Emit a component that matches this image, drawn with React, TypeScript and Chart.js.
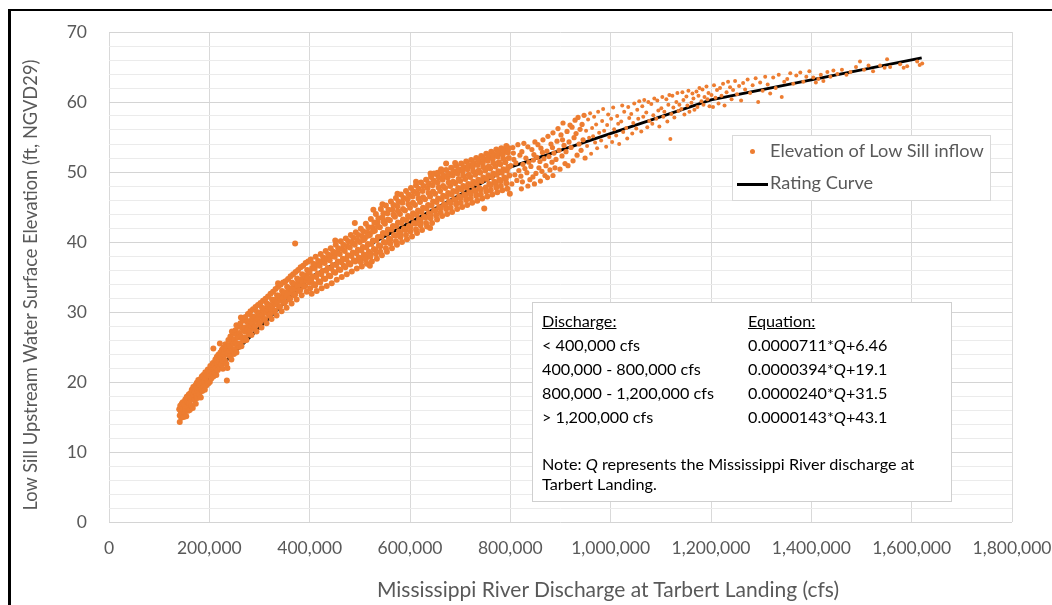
import { useEffect, useRef } from "react";
import { Chart, registerables } from "chart.js";

Chart.register(...registerables);

// ---------- DATA ----------
// Observed Low Sill inflow: [Mississippi discharge (thousand cfs), elevation (ft, NGVD29)]
const obsBelow400k: [number, number][] = [
  [140,16.1],[141,14.3],[141,15.2],[142,16.6],[143,15.8],[144,14.9],[145,16.9],[146,15.5],[147,17.1],[148,16.2],[149,15.0],
  [150,16.8],[151,15.6],[152,17.5],[153,16.2],[154,15.1],[155,17.9],[156,16.5],[157,17.1],[158,15.9],[159,18.2],
  [160,17.0],[161,16.0],[162,18.4],[163,17.5],[164,16.6],[165,18.9],[166,17.8],[167,16.3],[168,19.3],[169,18.1],
  [170,17.4],[171,18.6],[172,19.5],[173,16.9],[174,18.0],[175,19.9],[176,17.7],[177,18.8],[178,20.3],[179,19.1],
  [180,18.2],[181,19.6],[182,20.4],[183,17.8],[184,19.0],[185,20.8],[186,18.7],[187,19.9],[188,21.0],[189,19.3],
  [190,20.1],[191,18.9],[192,21.4],[193,20.6],[194,19.5],[195,21.0],[196,20.0],[197,21.8],[198,19.8],[199,20.9],
  [200,21.2],[201,20.0],[202,22.3],[203,21.6],[204,20.5],[205,22.0],[206,21.1],[207,22.7],[208,20.8],[209,21.9],[208,24.8],
  [210,22.4],[211,21.3],[212,23.2],[213,22.0],[214,21.0],[215,23.6],[216,22.6],[217,21.7],[218,23.9],[219,22.9],
  [220,23.3],[221,22.1],[222,24.2],[223,23.6],[224,22.5],[225,24.6],[226,23.0],[227,21.9],[228,24.9],[229,23.8],[221,25.5],
  [230,24.3],[231,23.1],[232,25.4],[233,24.7],[234,22.6],[235,20.2],[236,25.1],[237,23.9],[238,26.0],[239,24.4],[236,22.0],
  [240,25.2],[241,23.7],[242,26.5],[243,24.9],[244,23.2],[245,25.8],[246,24.5],[247,26.9],[248,25.5],[249,24.0],[245,27.2],
  [250,26.1],[251,24.7],[252,27.4],[253,25.6],[254,24.2],[255,26.8],[256,25.3],[257,27.9],[258,26.4],[259,25.0],[254,28.1],
  [260,27.0],[261,25.5],[262,28.4],[263,26.5],[264,25.1],[265,27.7],[266,26.2],[267,28.8],[268,27.3],[269,25.9],[263,29.2],
  [270,27.8],[271,26.4],[272,29.3],[273,27.2],[274,26.0],[275,28.6],[276,27.5],[277,29.7],[278,28.2],[279,26.8],
  [280,28.7],[281,27.3],[282,30.1],[283,28.0],[284,26.7],[285,29.4],[286,28.4],[287,30.4],[288,29.0],[289,27.6],
  [290,29.3],[291,27.9],[292,30.7],[293,28.7],[294,27.2],[295,30.0],[296,29.0],[297,31.0],[298,29.6],[299,28.3],
  [300,29.9],[301,28.5],[302,31.3],[303,29.3],[304,27.8],[305,30.6],[306,29.6],[307,31.6],[308,30.2],[309,28.9],
  [310,30.5],[311,29.0],[312,31.9],[313,29.9],[314,28.4],[315,31.2],[316,30.3],[317,32.2],[318,30.8],[319,29.5],
  [320,31.0],[321,29.6],[322,32.6],[323,30.4],[324,29.0],[325,31.8],[326,30.9],[327,32.9],[328,31.4],[329,30.0],
  [330,31.7],[331,30.2],[332,33.3],[333,31.1],[334,29.5],[335,32.4],[336,31.5],[337,33.6],[338,32.1],[339,30.7],[337,34.1],
  [340,32.3],[341,30.8],[342,33.9],[343,31.6],[344,30.1],[345,33.0],[346,32.0],[347,34.2],[348,32.7],[349,31.3],
  [350,32.8],[351,31.4],[352,34.4],[353,32.2],[354,30.6],[355,33.6],[356,32.5],[357,34.7],[358,33.2],[359,31.8],
  [360,33.4],[361,31.9],[362,35.1],[363,32.7],[364,31.2],[365,34.2],[366,33.1],[367,35.4],[368,33.8],[369,32.4],
  [370,34.0],[371,32.5],[372,35.7],[371,39.8],[373,33.3],[374,31.8],[375,34.8],[376,33.7],[377,36.0],[378,34.4],[379,33.0],
  [380,34.6],[381,33.1],[382,36.4],[383,33.9],[384,32.4],[385,35.4],[386,34.3],[387,36.6],[388,35.0],[389,33.6],
  [390,35.2],[391,33.7],[392,37.0],[393,34.5],[394,32.9],[395,36.0],[396,34.9],[397,37.2],[398,35.6],[399,34.2],
];

const obs400kTo800k: [number, number][] = [
  [400,35.8],[401,33.4],[402,37.5],[403,34.6],[404,32.6],[405,36.3],[406,35.1],[407,36.9],[408,34.0],
  [410,36.2],[411,33.8],[412,37.9],[413,35.0],[414,33.0],[415,36.8],[416,35.5],[417,37.3],[418,34.4],
  [420,36.6],[421,34.2],[422,38.3],[423,35.4],[424,33.4],[425,37.2],[426,35.9],[427,37.8],[428,34.8],
  [430,37.0],[431,34.7],[432,38.7],[433,35.9],[434,33.7],[435,37.6],[436,36.3],[437,38.2],[438,35.2],
  [440,37.4],[441,35.1],[442,39.1],[443,36.2],[444,34.1],[445,38.0],[446,36.7],[447,38.6],[448,35.7],
  [450,37.9],[451,35.6],[452,39.6],[453,36.7],[454,34.6],[455,38.5],[456,37.2],[457,39.1],[458,36.1],[451,40.2],
  [460,38.3],[461,36.0],[462,40.1],[463,37.1],[464,35.0],[465,39.0],[466,37.6],[467,39.6],[468,36.6],
  [470,38.7],[471,36.4],[472,40.5],[473,37.5],[474,35.4],[475,39.4],[476,38.1],[477,40.1],[478,37.0],
  [480,39.2],[481,36.8],[482,41.0],[483,38.0],[484,35.8],[485,39.9],[486,38.5],[487,40.6],[488,37.4],
  [490,39.6],[491,37.2],[492,41.4],[493,38.4],[494,36.2],[495,40.3],[496,38.9],[497,41.0],[498,37.8],[490,42.7],
  [500,40.0],[501,37.6],[502,41.9],[503,38.8],[504,36.5],[505,40.8],[506,39.3],[507,41.5],[508,38.2],
  [510,40.5],[511,38.0],[512,42.6],[513,39.2],[514,36.9],[515,41.4],[516,39.7],[517,42.1],[518,38.6],
  [520,41.0],[521,38.4],[522,43.3],[523,39.7],[524,37.2],[525,42.1],[526,40.2],[527,44.6],[528,39.0],[520,36.6],
  [530,41.6],[531,38.9],[532,44.0],[533,40.2],[534,37.6],[535,42.8],[536,40.7],[537,43.4],[538,39.5],
  [540,42.1],[541,39.4],[542,44.7],[543,40.8],[544,38.1],[545,43.5],[546,41.3],[547,44.1],[548,40.0],[545,45.4],
  [550,42.6],[551,39.9],[552,45.2],[553,41.3],[554,38.6],[555,44.1],[556,41.8],[557,44.6],[558,40.5],
  [560,43.1],[561,40.4],[562,45.8],[563,41.8],[564,39.1],[565,44.6],[566,42.3],[567,45.3],[568,41.0],
  [570,43.6],[571,40.9],[572,46.3],[573,42.3],[574,39.6],[575,45.1],[576,42.8],[577,45.8],[578,41.5],[575,46.9],
  [580,44.0],[581,41.3],[582,46.8],[583,42.7],[584,40.0],[585,45.6],[586,43.2],[587,46.3],[588,41.9],
  [590,44.5],[591,41.7],[592,47.3],[593,43.1],[594,40.4],[595,46.1],[596,43.7],[597,46.8],[598,42.3],
  [600,44.9],[601,42.1],[602,47.7],[603,43.5],[604,40.8],[605,46.5],[606,44.1],[607,47.2],[608,42.7],
  [610,45.3],[611,42.6],[612,48.1],[613,43.9],[614,41.3],[615,46.9],[616,44.5],[617,47.6],[618,43.2],[612,48.6],
  [620,45.7],[621,43.0],[622,48.5],[623,44.3],[624,41.7],[625,47.3],[626,44.9],[627,48.0],[628,43.6],
  [630,46.1],[631,43.5],[632,48.9],[633,44.8],[634,42.2],[635,47.7],[636,45.3],[637,48.4],[638,44.1],
  [640,46.5],[641,44.0],[642,49.3],[643,45.2],[644,42.7],[645,48.1],[646,45.8],[647,48.8],[648,44.5],[640,42.0],[641,49.8],
  [650,46.9],[651,44.5],[652,49.7],[653,45.7],[654,43.2],[655,48.5],[656,46.2],[657,49.2],[658,45.0],[648,49.8],[655,49.9],
  [660,47.3],[661,44.9],[662,50.0],[663,46.1],[664,43.7],[665,48.9],[666,46.6],[667,49.5],[668,45.4],[662,50.4],
  [670,47.7],[671,45.2],[672,50.3],[673,46.5],[674,44.0],[675,49.2],[676,47.0],[677,49.8],[678,45.8],[672,51.2],
  [680,48.0],[681,45.6],[682,50.6],[683,46.8],[684,44.3],[685,49.5],[686,47.3],[687,50.1],[688,46.1],
  [690,48.4],[691,46.0],[692,50.9],[693,47.2],[694,44.7],[695,49.8],[696,47.7],[697,50.4],[698,46.5],[690,51.3],
  [700,48.7],[701,46.3],[702,51.2],[703,47.5],[704,45.0],[705,50.1],[706,48.0],[707,50.7],[708,46.8],
  [710,49.0],[711,46.6],[712,51.5],[713,47.8],[714,45.3],[715,50.4],[716,48.3],[717,51.0],[718,47.1],
  [720,49.3],[721,46.9],[722,51.7],[723,48.1],[724,45.6],[725,50.7],[726,48.6],[727,51.3],[728,47.4],
  [730,49.6],[731,47.2],[732,52.0],[733,48.4],[734,45.9],[735,51.0],[736,48.9],[737,51.6],[738,47.7],
  [740,49.9],[741,47.5],[742,52.3],[743,48.7],[744,46.2],[745,51.3],[746,49.2],[747,51.9],[748,44.8],
  [750,50.2],[751,47.8],[752,52.6],[753,49.0],[754,46.5],[755,51.6],[756,49.5],[757,52.2],[758,48.3],
  [760,50.5],[761,48.1],[762,52.9],[763,49.3],[764,46.8],[765,51.9],[766,49.8],[767,52.5],[768,48.6],
  [770,50.8],[771,48.4],[772,53.2],[773,49.6],[774,47.1],[775,52.2],[776,50.1],[777,52.8],[778,48.9],
  [780,51.1],[781,48.7],[782,53.4],[783,49.9],[784,47.4],[785,52.5],[786,50.4],[787,53.1],[788,49.2],
  [790,51.4],[791,49.0],[792,53.7],[793,50.2],[794,47.6],[795,52.8],[796,50.7],[797,53.4],[798,49.5],[799,46.9],
  // densely packed readings inside the band
  [502,37.1],[507,40.3],[512,37.5],[516,40.9],[521,37.9],[526,41.5],[529,42.8],[532,38.3],[536,42.2],
  [541,38.6],[547,42.9],[552,39.1],[556,43.2],[561,39.8],[567,43.9],[572,40.1],[576,44.4],[581,40.7],[586,44.7],
  [592,41.0],[597,45.4],[601,41.5],[606,45.6],[612,41.8],[617,46.2],[621,42.4],[626,46.4],[632,42.7],[637,47.0],
  [641,43.4],[646,47.2],[652,43.8],[657,47.8],[661,44.2],[666,48.0],[672,44.7],[677,48.5],[681,44.9],[686,48.6],
  [692,45.4],[697,49.0],[701,45.6],[706,49.5],[712,46.0],[717,49.6],[721,46.2],[726,50.1],[732,46.6],[737,50.2],
  [741,46.8],[746,50.7],[752,47.2],[757,50.8],[761,47.4],[766,51.3],[772,47.8],[777,51.4],[781,48.0],[786,51.9],
  [792,48.4],[797,52.0],
];

const obs800kTo1200k: [number, number][] = [
  [801,50.9],[803,48.3],[805,53.5],[807,51.8],[809,49.6],[806,52.7],
  [811,51.3],[813,48.8],[815,53.9],[817,50.2],[819,52.4],
  [821,49.4],[823,52.9],[825,51.1],[827,54.1],[829,50.5],[824,48.6],[822,47.6],
  [831,52.0],[833,49.9],[835,53.6],[837,51.4],[839,48.9],[835,48.0],
  [841,50.8],[843,53.2],[845,49.3],[847,52.5],[849,54.3],[846,51.7],[848,48.3],
  [851,49.8],[853,52.1],[855,53.9],[857,50.6],[859,51.5],
  [861,53.4],[863,50.1],[865,54.6],[867,51.9],[869,49.5],[864,52.8],[860,48.7],
  [871,50.9],[873,53.0],[875,55.1],[877,52.2],[879,50.3],[874,49.2],
  [881,54.0],[883,51.4],[885,55.6],[887,52.7],[889,50.6],[884,53.5],[885,49.5],
  [891,51.8],[893,54.4],[895,56.2],[897,53.1],[899,50.4],
  [901,55.3],[903,52.3],[905,57.0],[907,53.8],[909,51.2],[904,54.6],
  [911,52.9],[913,55.8],[915,50.9],[917,54.3],[919,56.7],
  [921,53.5],[923,56.4],[925,51.6],[927,54.9],[929,57.4],
  [931,55.5],[933,52.4],[935,57.8],[937,54.0],[939,56.1],
  [941,53.1],[943,56.8],[945,54.6],[947,58.1],[949,52.0],
  [951,55.9],[953,53.7],[955,57.5],[957,54.9],[959,58.4],
  [961,52.6],[963,56.3],[965,55.1],[967,57.9],[969,54.2],
  [971,56.8],[973,53.4],[975,58.6],[977,55.6],
  [981,54.5],[983,57.3],[985,59.0],[987,55.9],
  [991,53.6],[993,56.7],[995,58.2],[997,55.0],
  [1001,57.6],[1003,54.3],[1005,59.2],[1007,56.1],
  [1011,55.2],[1013,58.0],[1015,56.9],[1017,54.0],
  [1021,57.2],[1023,59.5],[1025,55.7],[1027,58.6],
  [1031,56.3],[1033,54.8],[1035,59.3],[1037,57.7],
  [1041,58.3],[1043,55.5],[1045,57.0],[1047,59.8],
  [1051,56.2],[1053,58.9],[1055,57.6],[1057,60.1],
  [1061,55.8],[1063,59.4],[1065,57.9],[1067,60.3],
  [1071,58.5],[1073,56.4],[1075,60.0],[1077,57.3],
  [1081,59.7],[1083,56.9],[1085,58.1],[1087,60.5],
  [1091,57.6],[1093,60.2],[1095,58.8],[1097,56.5],
  [1101,59.1],[1103,60.7],[1105,57.9],[1107,58.6],
  [1111,60.4],[1113,57.2],[1115,59.6],[1117,61.0],
  [1119,54.7],[1121,58.3],[1123,60.9],[1125,59.2],[1127,57.8],
  [1131,60.0],[1133,61.3],[1135,58.7],[1137,59.6],
  [1141,59.0],[1143,61.4],[1145,60.3],[1147,58.2],
  [1151,60.8],[1153,59.5],[1155,61.6],[1157,58.6],
  [1161,59.9],[1163,61.2],[1165,60.5],[1167,58.9],
  [1171,61.5],[1173,59.3],[1175,60.9],[1177,62.0],
  [1181,60.1],[1183,61.8],[1185,59.6],[1187,60.7],
  [1191,62.2],[1193,60.4],[1195,61.3],[1197,59.4],
];

const obsAbove1200k: [number, number][] = [
  [1201,61.0],[1204,59.3],[1206,62.4],[1209,60.6],[1212,61.7],[1215,59.8],[1218,62.0],[1221,60.9],[1224,62.6],[1227,59.5],
  [1231,61.4],[1234,62.9],[1238,62.1],[1241,60.4],[1244,61.7],[1248,63.0],[1252,61.1],[1256,62.3],[1260,60.2],[1264,62.7],
  [1268,61.8],[1273,63.2],[1278,61.3],[1283,62.4],[1289,63.4],[1294,60.0],[1298,62.8],[1303,61.6],[1308,63.6],[1313,62.5],
  [1318,61.2],[1324,63.5],[1329,62.0],[1335,63.9],[1341,60.7],[1346,62.9],[1352,63.3],[1358,64.1],[1364,62.6],[1370,63.8],
  [1378,64.2],[1384,62.9],[1390,63.6],[1396,64.4],[1404,63.5],[1409,62.8],[1414,63.3],[1419,63.9],[1424,63.0],[1432,64.3],
  [1438,63.6],[1444,64.5],[1452,64.0],[1461,64.6],[1470,63.9],[1478,64.3],[1489,65.0],[1497,65.8],[1505,64.6],[1514,65.2],
  [1523,64.4],[1537,65.2],[1546,64.9],[1551,66.1],[1557,65.0],[1577,65.4],[1584,64.9],[1591,65.1],[1611,65.8],[1616,65.3],[1621,65.5],
];

// Rating curve vertices (cfs, ft)
const ratingDischarge = [140000, 400000, 800000, 1200000, 1620000];
const ratingElevation = [16.4, 34.9, 50.7, 60.3, 66.3];

// Equation table
const rangeLabels = ["< 400,000 cfs", "400,000 - 800,000 cfs", "800,000 - 1,200,000 cfs", "> 1,200,000 cfs"];
const slopes = ["0.0000711", "0.0000394", "0.0000240", "0.0000143"];
const intercepts = ["6.46", "19.1", "31.5", "43.1"];

const ORANGE = "#ED7D31";
const GREY_TEXT = "#595959";
const FONT = "Lato, 'Open Sans', sans-serif";
const EQ_SIZE = 16.2;

function textAt(x: number, baseline: number, size: number, color: string) {
  return {
    position: "absolute" as const,
    left: x,
    top: baseline - 0.987 * size,
    fontSize: size,
    lineHeight: `${1.2 * size}px`,
    whiteSpace: "nowrap" as const,
    color,
    fontFamily: FONT,
  };
}

function markerRadius(c: any) {
  const q = c.raw ? c.raw.x : 0;
  if (q < 800000) return 3.0;
  if (q < 950000) return 2.6;
  return 2.0;
}

export default function App() {
  const canvasRef = useRef<HTMLCanvasElement>(null);

  useEffect(() => {
    const canvas = canvasRef.current;
    if (!canvas) return;
    const observed = [...obsBelow400k, ...obs400kTo800k, ...obs800kTo1200k, ...obsAbove1200k].map(
      ([q, e]) => ({ x: q * 1000, y: e })
    );
    const rating = ratingDischarge.map((q, i) => ({ x: q, y: ratingElevation[i] }));
    const tickFont = { family: FONT, size: 17.5 };

    const chart = new Chart(canvas, {
      type: "scatter",
      data: {
        datasets: [
          {
            label: "Elevation of Low Sill inflow",
            data: observed,
            backgroundColor: ORANGE,
            borderColor: ORANGE,
            borderWidth: 0,
            pointRadius: markerRadius,
            pointHoverRadius: markerRadius,
          } as any,
          {
            type: "line",
            label: "Rating Curve",
            data: rating,
            borderColor: "#000000",
            backgroundColor: "#000000",
            borderWidth: 3,
            pointRadius: 0,
            showLine: true,
            fill: false,
            tension: 0,
          } as any,
        ],
      },
      options: {
        animation: false,
        responsive: false,
        events: [],
        layout: { padding: { left: 0, right: 40, top: 32, bottom: 0 } },
        plugins: { legend: { display: false }, tooltip: { enabled: false }, title: { display: false } },
        scales: {
          x: {
            type: "linear",
            min: 0,
            max: 1800000,
            border: { display: false },
            grid: { color: "#d9d9d9", drawTicks: false, lineWidth: 1 },
            ticks: {
              stepSize: 200000,
              autoSkip: false,
              maxRotation: 0,
              padding: 16,
              color: GREY_TEXT,
              font: tickFont,
              callback: (v: any) => Number(v).toLocaleString("en-US"),
            },
            afterFit: (s: any) => {
              s.height = 83;
              s.paddingLeft = 0;
              s.paddingRight = 0;
            },
          },
          y: {
            type: "linear",
            min: 0,
            max: 70,
            border: { display: false },
            grid: {
              drawTicks: false,
              lineWidth: 1,
              color: (c: any) => (c.tick && c.tick.value % 10 === 0 ? "#d4d4d4" : "#ebebeb"),
            },
            ticks: {
              stepSize: 2,
              autoSkip: false,
              padding: 22,
              color: GREY_TEXT,
              font: tickFont,
              callback: (v: any) => (Number(v) % 10 === 0 ? String(v) : ""),
            },
            afterFit: (s: any) => {
              s.width = 109;
              s.paddingTop = 0;
              s.paddingBottom = 0;
            },
          },
        },
      },
    });
    return () => chart.destroy();
  }, []);

  return (
    <div
      style={{
        position: "fixed",
        left: 0,
        top: 0,
        width: 1052,
        height: 605,
        overflow: "hidden",
        background: "#ffffff",
        fontFamily: FONT,
      }}
    >
      <canvas
        ref={canvasRef}
        width={1052}
        height={605}
        style={{ position: "absolute", left: 0, top: 0, width: 1052, height: 605 }}
      />
      {/* outer frame (top & left visible) */}
      <div
        style={{
          position: "absolute",
          left: 8,
          top: 9,
          right: -10,
          bottom: -10,
          borderTop: "2px solid #000",
          borderLeft: "3px solid #000",
          pointerEvents: "none",
        }}
      />
      {/* axis titles */}
      <div
        style={{
          ...textAt(0, 596.5, 21, GREY_TEXT),
          left: 608,
          transform: "translateX(-50%)",
        }}
      >
        Mississippi River Discharge at Tarbert Landing (cfs)
      </div>
      <div
        style={{
          position: "absolute",
          left: 30 - 300,
          top: 285 - 11,
          width: 600,
          height: 22,
          lineHeight: "22px",
          fontSize: 18.3,
          textAlign: "center",
          whiteSpace: "nowrap",
          color: GREY_TEXT,
          fontFamily: FONT,
          transform: "rotate(-90deg)",
        }}
      >
        Low Sill Upstream Water Surface Elevation (ft, NGVD29)
      </div>

      {/* legend */}
      <div
        style={{
          position: "absolute",
          left: 732,
          top: 135,
          width: 259,
          height: 66,
          boxSizing: "border-box",
          border: "1px solid #d9d9d9",
          background: "#fff",
        }}
      />
      <div
        style={{
          position: "absolute",
          left: 752 - 2.5,
          top: 151 - 2.5,
          width: 5,
          height: 5,
          borderRadius: "50%",
          background: ORANGE,
        }}
      />
      <div style={textAt(770, 158, 18.2, GREY_TEXT)}>Elevation of Low Sill inflow</div>
      <div
        style={{ position: "absolute", left: 737, top: 182.5, width: 31, height: 3, background: "#000" }}
      />
      <div style={textAt(770, 190, 18.2, GREY_TEXT)}>Rating Curve</div>

      {/* equation box */}
      <div
        style={{
          position: "absolute",
          left: 532,
          top: 302,
          width: 420,
          height: 200,
          boxSizing: "border-box",
          border: "1px solid #cfcfcf",
          background: "#fff",
        }}
      />
      <div style={{ ...textAt(542, 326.5, EQ_SIZE, "#000"), textDecoration: "underline" }}>Discharge:</div>
      <div style={{ ...textAt(748, 326.5, EQ_SIZE, "#000"), textDecoration: "underline" }}>Equation:</div>
      {rangeLabels.map((label, i) => (
        <div key={"r" + i}>
          <div style={textAt(542, 350.5 + 24 * i, EQ_SIZE, "#000")}>{label}</div>
          <div style={textAt(748, 350.5 + 24 * i, EQ_SIZE, "#000")}>
            {slopes[i]}*<i>Q</i>+{intercepts[i]}
          </div>
        </div>
      ))}
      <div style={textAt(542, 470, EQ_SIZE, "#000")}>
        Note: <i>Q</i> represents the Mississippi River discharge at
      </div>
      <div style={textAt(542, 489.5, EQ_SIZE, "#000")}>Tarbert Landing.</div>
    </div>
  );
}
